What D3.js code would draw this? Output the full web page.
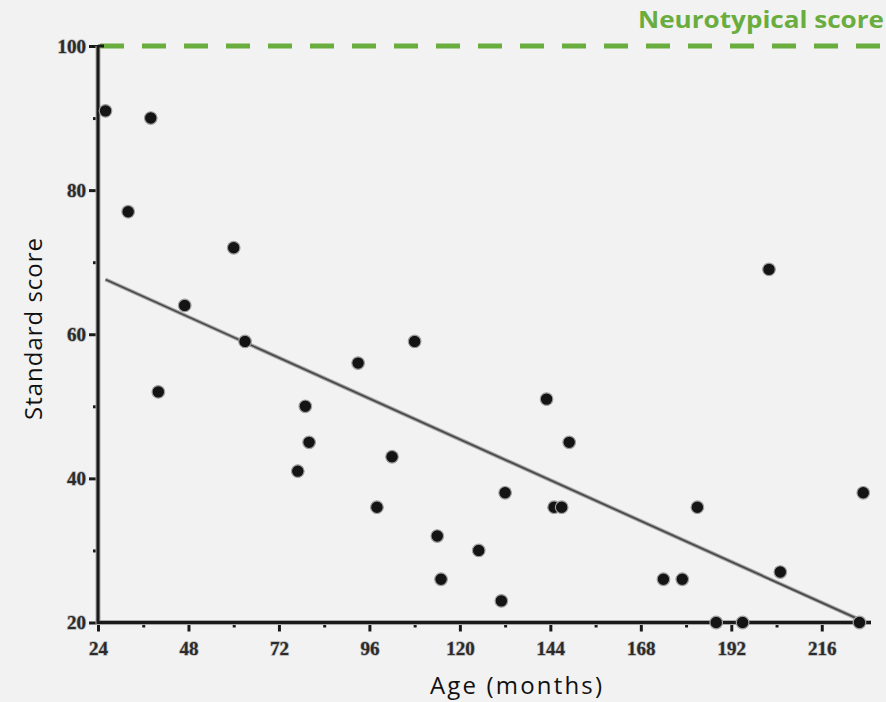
<!DOCTYPE html>
<meta charset="utf-8">
<style>

body {
  margin: 0;
  background: #f2f2f2;
}

.tick text {
  font-family: "Liberation Serif", "DejaVu Serif", serif;
  font-weight: bold;
  font-size: 19px;
  fill: #2a2a2a;
  stroke: #b5b5b5;
  stroke-width: 1.4px;
  paint-order: stroke;
}

.axis-title {
  font-family: "Open Sans", "Noto Sans", sans-serif;
  font-size: 24px;
  fill: #111;
}

</style>
<svg width="886" height="702"></svg>
<script src="https://d3js.org/d3.v7.min.js"></script>
<script>

// values
var ages = [26, 38, 32, 60, 47, 63, 40, 93, 108, 79, 80, 77, 102, 98, 114, 115, 125, 132, 131, 143, 149, 145, 147, 174, 179, 183, 188, 195, 202, 205, 226, 227];
var scores = [91, 90, 77, 72, 64, 59, 52, 56, 59, 50, 45, 41, 43, 36, 32, 26, 30, 38, 23, 51, 45, 36, 36, 26, 26, 36, 20, 20, 69, 27, 20, 38];

// fitted line end points
var fitAges = [26, 226];
var fitScores = [67.6, 20.4];

var neurotypical = 100;

var xMajor = [24, 48, 72, 96, 120, 144, 168, 192, 216];
var xMinor = [36, 60, 84, 108, 132, 156, 180, 204];
var yMajor = [20, 40, 60, 80, 100];
var yMinor = [30, 50, 70, 90];

var svg = d3.select("svg");

var x = d3.scaleLinear().domain([24, 228]).range([98, 867]);
var y = d3.scaleLinear().domain([20, 100]).range([622.5, 46]);

// neurotypical reference line
svg.append("line")
    .attr("x1", x(24) + 2)
    .attr("x2", 886)
    .attr("y1", y(neurotypical))
    .attr("y2", y(neurotypical))
    .attr("stroke", "#6aad3f")
    .attr("stroke-width", 5)
    .attr("stroke-dasharray", "24 18");

svg.append("text")
    .attr("x", 884)
    .attr("y", 28)
    .attr("text-anchor", "end")
    .attr("textLength", 246)
    .attr("lengthAdjust", "spacingAndGlyphs")
    .style("font-family", "'Open Sans', 'Noto Sans', sans-serif")
    .style("font-weight", "bold")
    .style("font-size", "24px")
    .style("fill", "#6aad3f")
    .text("Neurotypical score");

// axes: minor ticks first, then major
function drawAxis(axis, cls, tr) {
  return svg.append("g").attr("class", cls).attr("transform", tr).call(axis);
}

drawAxis(d3.axisBottom(x).tickValues(xMinor).tickSize(5).tickSizeOuter(0).tickFormat(""), "x minor", "translate(0," + y(20) + ")");
drawAxis(d3.axisBottom(x).tickValues(xMajor).tickSize(9).tickSizeOuter(0).tickPadding(10), "x major", "translate(0," + y(20) + ")");
drawAxis(d3.axisLeft(y).tickValues(yMinor).tickSize(5).tickSizeOuter(0).tickFormat(""), "y minor", "translate(" + x(24) + ",0)");
drawAxis(d3.axisLeft(y).tickValues(yMajor).tickSize(9).tickSizeOuter(0).tickPadding(3), "y major", "translate(" + x(24) + ",0)");

svg.selectAll(".domain").remove();
svg.selectAll(".tick line").attr("stroke", "#1a1a1a").attr("stroke-width", 3);

// axis lines with a soft grey edge
var axisPath = "M" + x(24) + "," + y(100) + "V" + y(20) + "H" + (x(228) + 4);
svg.append("path").attr("d", axisPath).attr("fill", "none").attr("stroke", "#a8a8a8").attr("stroke-width", 5);
svg.append("path").attr("d", axisPath).attr("fill", "none").attr("stroke", "#1a1a1a").attr("stroke-width", 3);
svg.append("path").attr("d", "M" + x(24) + "," + y(100) + "h6")
    .attr("stroke", "#1a1a1a").attr("stroke-width", 3);

// fitted line
var fit = fitAges.map(function(d, i) { return [d, fitScores[i]]; });
var line = d3.line()
    .x(function(d) { return x(d[0]); })
    .y(function(d) { return y(d[1]); });

svg.append("path").datum(fit).attr("d", line)
    .attr("fill", "none").attr("stroke", "#a8a8a8").attr("stroke-width", 4);
svg.append("path").datum(fit).attr("d", line)
    .attr("fill", "none").attr("stroke", "#4a4a4a").attr("stroke-width", 1.8);

// points
svg.append("g")
  .selectAll("circle")
  .data(ages)
  .enter().append("circle")
    .attr("cx", function(d) { return x(d); })
    .attr("cy", function(d, i) { return y(scores[i]); })
    .attr("r", 6.3)
    .attr("fill", "#141414")
    .attr("stroke", "#a0a0a0")
    .attr("stroke-width", 1.2);

// axis titles
svg.append("text")
    .attr("class", "axis-title")
    .attr("x", 516)
    .attr("y", 694)
    .attr("text-anchor", "middle")
    .attr("textLength", 172)
    .attr("lengthAdjust", "spacing")
    .text("Age (months)");

svg.append("text")
    .attr("class", "axis-title")
    .attr("transform", "translate(42,329) rotate(-90)")
    .attr("text-anchor", "middle")
    .attr("textLength", 182)
    .attr("lengthAdjust", "spacing")
    .text("Standard score");

</script>
